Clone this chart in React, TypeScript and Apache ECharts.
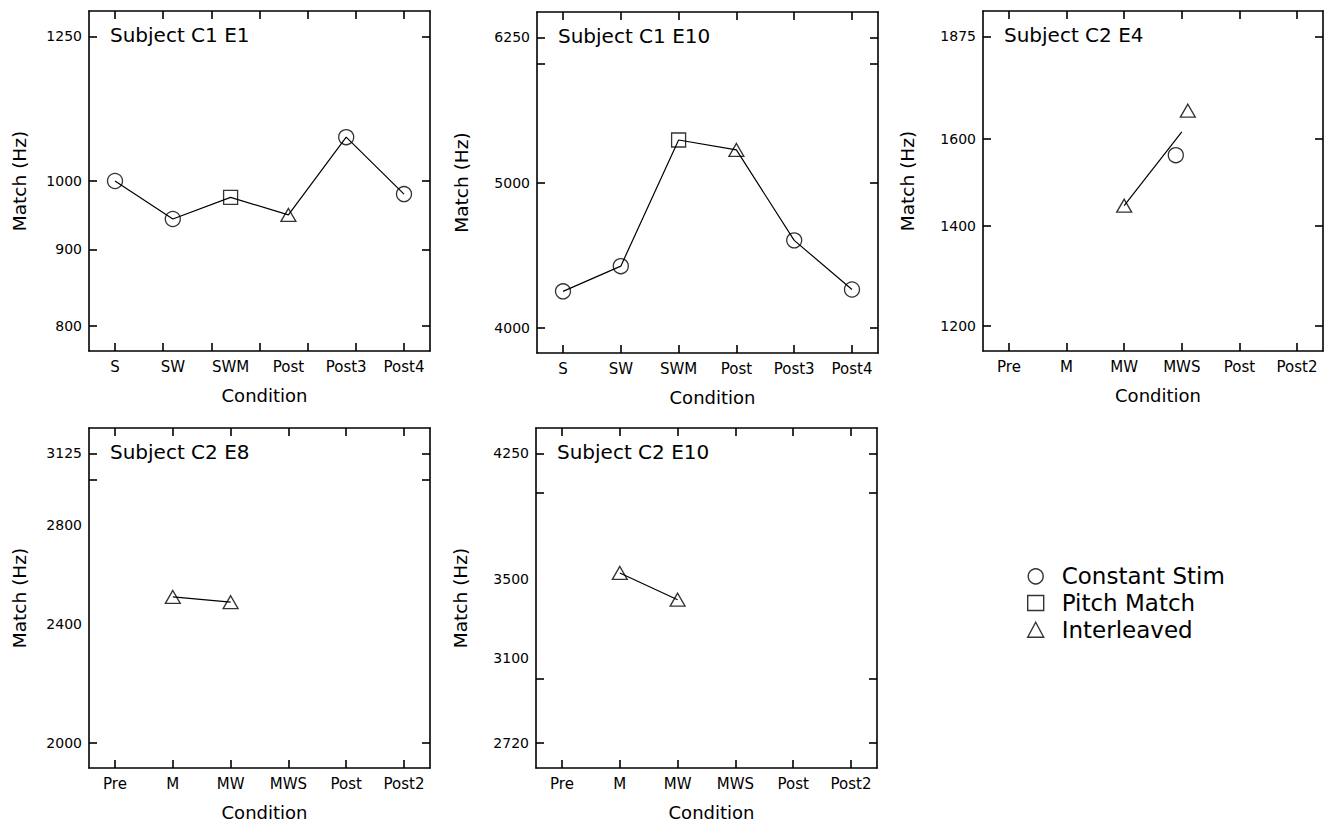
import React, { useEffect, useRef } from 'react';
import * as echarts from 'echarts';

// ---------- DATA ----------
const conditionsC1 = ['S', 'SW', 'SWM', 'Post', 'Post3', 'Post4'];
const conditionsC2 = ['Pre', 'M', 'MW', 'MWS', 'Post', 'Post2'];
const methodNames = ['Constant Stim', 'Pitch Match', 'Interleaved'];

// Panel 1 : Subject C1 E1
const p1Title = 'Subject C1 E1';
const p1PointCats = ['S', 'SW', 'SWM', 'Post', 'Post3', 'Post4'];
const p1Values = [1000, 943, 975, 949, 1070, 980];
const p1Methods = ['Constant Stim', 'Constant Stim', 'Pitch Match', 'Interleaved', 'Constant Stim', 'Constant Stim'];
const p1LineCats = ['S', 'SW', 'SWM', 'Post', 'Post3', 'Post4'];
const p1LineValues = [1000, 943, 975, 949, 1070, 980];
const p1YLabels = [800, 900, 1000, 1250];
const p1YTicks = [800, 900, 1000, 1250];

// Panel 2 : Subject C1 E10
const p2Title = 'Subject C1 E10';
const p2PointCats = ['S', 'SW', 'SWM', 'Post', 'Post3', 'Post4'];
const p2Values = [4229, 4396, 5338, 5257, 4574, 4241];
const p2Methods = ['Constant Stim', 'Constant Stim', 'Pitch Match', 'Interleaved', 'Constant Stim', 'Constant Stim'];
const p2LineCats = ['S', 'SW', 'SWM', 'Post', 'Post3', 'Post4'];
const p2LineValues = [4229, 4396, 5338, 5257, 4574, 4241];
const p2YLabels = [4000, 5000, 6250];
const p2YTicks = [4000, 5000, 6000, 6250];

// Panel 3 : Subject C2 E4
const p3Title = 'Subject C2 E4';
const p3PointCats = ['MW', 'MWS', 'MWS'];
const p3Values = [1444, 1561, 1672];
const p3Methods = ['Interleaved', 'Constant Stim', 'Interleaved'];
const p3LineCats = ['MW', 'MWS'];
const p3LineValues = [1444, 1618];
const p3YLabels = [1200, 1400, 1600, 1875];
const p3YTicks = [1200, 1400, 1600, 1875];

// Panel 4 : Subject C2 E8
const p4Title = 'Subject C2 E8';
const p4PointCats = ['M', 'MW'];
const p4Values = [2504, 2484];
const p4Methods = ['Interleaved', 'Interleaved'];
const p4LineCats = ['M', 'MW'];
const p4LineValues = [2504, 2484];
const p4YLabels = [2000, 2400, 2800, 3125];
const p4YTicks = [2000, 3000, 3125];

// Panel 5 : Subject C2 E10
const p5Title = 'Subject C2 E10';
const p5PointCats = ['M', 'MW'];
const p5Values = [3534, 3391];
const p5Methods = ['Interleaved', 'Interleaved'];
const p5LineCats = ['M', 'MW'];
const p5LineValues = [3534, 3391];
const p5YLabels = [2720, 3100, 3500, 4250];
const p5YTicks = [2720, 3000, 4000, 4250];

// ---------- STYLE / LAYOUT ----------
const FONT = 'DejaVu Sans';
const SYMBOL: Record<string, string> = { 'Constant Stim': 'circle', 'Pitch Match': 'rect', 'Interleaved': 'triangle' };
const SYMBOL_SIZE: Record<string, any> = { circle: 15, rect: 14, triangle: [15, 13] };
const MARKER_STYLE = { color: 'rgba(0,0,0,0)', borderColor: '#000', borderWidth: 1.3 };
const Y_PAD = 1.04;

const panels = [
  { title: p1Title, cats: conditionsC1, pointCats: p1PointCats, values: p1Values, methods: p1Methods, lineCats: p1LineCats, lineValues: p1LineValues, yLabels: p1YLabels, yTicks: p1YTicks, xTickCount: 7, jitter: [0, 0, 0, 0, 0, 0], grid: { left: 89, top: 11, width: 341, height: 340 }, nameGap: 60 },
  { title: p2Title, cats: conditionsC1, pointCats: p2PointCats, values: p2Values, methods: p2Methods, lineCats: p2LineCats, lineValues: p2LineValues, yLabels: p2YLabels, yTicks: p2YTicks, xTickCount: 6, jitter: [0, 0, 0, 0, 0, 0], grid: { left: 537, top: 12, width: 341, height: 341 }, nameGap: 66 },
  { title: p3Title, cats: conditionsC2, pointCats: p3PointCats, values: p3Values, methods: p3Methods, lineCats: p3LineCats, lineValues: p3LineValues, yLabels: p3YLabels, yTicks: p3YTicks, xTickCount: 6, jitter: [0, -6, 6], grid: { left: 983, top: 11, width: 340, height: 340 }, nameGap: 66 },
  { title: p4Title, cats: conditionsC2, pointCats: p4PointCats, values: p4Values, methods: p4Methods, lineCats: p4LineCats, lineValues: p4LineValues, yLabels: p4YLabels, yTicks: p4YTicks, xTickCount: 6, jitter: [0, 0], grid: { left: 89, top: 428, width: 341, height: 340 }, nameGap: 60 },
  { title: p5Title, cats: conditionsC2, pointCats: p5PointCats, values: p5Values, methods: p5Methods, lineCats: p5LineCats, lineValues: p5LineValues, yLabels: p5YLabels, yTicks: p5YTicks, xTickCount: 6, jitter: [0, 0], grid: { left: 536, top: 428, width: 341, height: 341 }, nameGap: 66 },
];

const lg = (v: number) => Math.log10(v);

function buildOption() {
  const grid: any[] = [];
  const xAxis: any[] = [];
  const yAxis: any[] = [];
  const series: any[] = [];
  const title: any[] = [];

  panels.forEach((p, i) => {
    grid.push({ ...p.grid, containLabel: false });
    const catIdx = p.cats.map((_, k) => k);
    const xTicks: number[] = [];
    for (let k = 0; k < p.xTickCount; k++) xTicks.push((k * (p.cats.length - 1)) / (p.xTickCount - 1));
    const allY = p.yLabels.concat(p.yTicks);
    const yMin = lg(Math.min(...allY) / Y_PAD);
    const yMax = lg(Math.max(...allY) * Y_PAD);
    const lineStyle = { color: '#000', width: 1.6 };
    const tickStyle = { color: '#000', width: 1.6 };

    const xCommon = {
      gridIndex: i, type: 'value', min: -0.45, max: p.cats.length - 1 + 0.45,
      axisLine: { show: true, onZero: false, lineStyle },
      axisTick: { show: true, inside: true, length: 8, customValues: xTicks, lineStyle: tickStyle },
      splitLine: { show: false },
    };
    xAxis.push({
      ...xCommon, position: 'bottom',
      axisLabel: { customValues: catIdx, formatter: (v: number) => p.cats[Math.round(v)], margin: 8, fontSize: 15, color: '#000', fontFamily: FONT },
      name: 'Condition', nameLocation: 'middle', nameGap: 35,
      nameTextStyle: { fontSize: 18, color: '#000', fontFamily: FONT, padding: [0, 0, 0, 10] },
    });
    xAxis.push({ ...xCommon, position: 'top', axisLabel: { show: false } });

    const yCommon = {
      gridIndex: i, type: 'value', min: yMin, max: yMax,
      axisLine: { show: true, onZero: false, lineStyle },
      axisTick: { show: true, inside: true, length: 8, customValues: p.yTicks.map(lg), lineStyle: tickStyle },
      splitLine: { show: false },
    };
    yAxis.push({
      ...yCommon, position: 'left',
      axisLabel: { customValues: p.yLabels.map(lg), formatter: (v: number) => String(Math.round(Math.pow(10, v))), margin: 7, fontSize: 14, color: '#000', fontFamily: FONT },
      name: 'Match (Hz)', nameLocation: 'middle', nameGap: p.nameGap, nameRotate: 90,
      nameTextStyle: { fontSize: 18.5, color: '#000', fontFamily: FONT },
    });
    yAxis.push({ ...yCommon, position: 'right', axisLabel: { show: false } });

    const xi = i * 2;
    const yi = i * 2;

    series.push({
      type: 'line', name: 'path' + i, xAxisIndex: xi, yAxisIndex: yi,
      data: p.lineCats.map((c, k) => [p.cats.indexOf(c), lg(p.lineValues[k])]),
      symbol: 'none', lineStyle: { color: '#000', width: 1.2 }, silent: true, z: 2,
    });

    methodNames.forEach((m) => {
      const data: any[] = [];
      p.pointCats.forEach((c, k) => {
        if (p.methods[k] !== m) return;
        data.push({ value: [p.cats.indexOf(c), lg(p.values[k])], symbolOffset: [p.jitter[k] || 0, 0] });
      });
      if (!data.length) return;
      const sym = SYMBOL[m];
      series.push({
        type: 'scatter', name: m, xAxisIndex: xi, yAxisIndex: yi, data,
        symbol: sym, symbolSize: SYMBOL_SIZE[sym], itemStyle: MARKER_STYLE, z: 3, silent: true,
      });
    });

    title.push({
      text: p.title, left: p.grid.left + 21, top: p.grid.top + 14, padding: 0,
      textStyle: { fontSize: 20, fontWeight: 'normal', color: '#000', fontFamily: FONT },
    });
  });

  return {
    animation: false,
    backgroundColor: '#fff',
    textStyle: { fontFamily: FONT },
    title,
    grid,
    xAxis,
    yAxis,
    series,
    legend: {
      orient: 'vertical', left: 1027, top: 563, padding: 0, itemGap: 0,
      itemWidth: 16, itemHeight: 15, selectedMode: false,
      textStyle: { fontSize: 23, color: '#000', fontFamily: FONT, lineHeight: 26.7, padding: [0, 0, 0, 13] },
      data: methodNames.map((m) => ({ name: m, icon: SYMBOL[m], itemStyle: { ...MARKER_STYLE, borderWidth: 1.4 } })),
    },
  };
}

export default function App() {
  const ref = useRef<HTMLDivElement>(null);
  useEffect(() => {
    if (!ref.current) return;
    const chart = echarts.init(ref.current, undefined, { renderer: 'svg' });
    chart.setOption(buildOption() as any);
    return () => chart.dispose();
  }, []);
  return <div ref={ref} style={{ position: 'fixed', left: 0, top: 0, width: 1335, height: 822, background: '#fff' }} />;
}
